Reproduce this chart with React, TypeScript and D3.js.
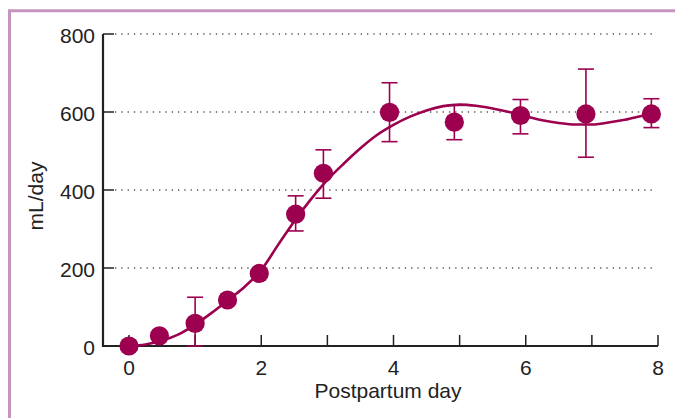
import React from 'react';
import * as d3 from 'd3';

const width = 675;
const height = 418;
const margin = { top: 34, left: 129, right: 17, bottom: 72 };

// measured points (postpartum day, mL/day) with error bar ends
const days = [0, 0.46, 1.0, 1.49, 1.97, 2.52, 2.94, 3.94, 4.92, 5.92, 6.91, 7.9];
const means = [0, 26, 58, 118, 186, 338, 443, 599, 574, 591, 595, 595];
const upper = [null, null, 125, null, null, 385, 503, 675, 617, 632, 710, 634];
const lower = [null, null, 0, null, null, 295, 379, 524, 529, 544, 484, 560];

// fitted curve
const curveDays = [0, 0.25, 0.5, 0.75, 1.0, 1.25, 1.5, 1.75, 2.0, 2.25, 2.5, 2.75, 3.0, 3.25, 3.5, 3.75, 4.0, 4.25, 4.5, 4.75, 5.0, 5.25, 5.5, 5.75, 6.0, 6.25, 6.5, 6.75, 7.0, 7.25, 7.5, 7.75, 7.9];
const curveValues = [0, 4, 14, 30, 55, 85, 118, 152, 195, 258, 320, 376, 426, 468, 507, 541, 567, 588, 604, 615, 619, 616, 609, 600, 589, 579, 572, 568, 568, 573, 580, 590, 596];

const xTicks = [0, 1, 2, 3, 4, 5, 6, 7, 8];
const xLabels = [0, 2, 4, 6, 8];
const yTicks = [0, 200, 400, 600, 800];
const gridValues = [200, 400, 600, 800];

const color = '#9c004f';
const ink = '#222';
const font = '"Liberation Sans", Arial, Helvetica, sans-serif';

const x = d3.scaleLinear().domain([0, 8]).range([margin.left, width - margin.right]);
const y = d3.scaleLinear().domain([0, 800]).range([height - margin.bottom, margin.top]);

const line = d3.line<number>()
  .x((d, i) => x(curveDays[i]))
  .y(d => y(d))
  .curve(d3.curveMonotoneX);

export default function App() {
  const x0 = 103;
  const y0 = y(0);
  return (
    <svg width={width} height={height} viewBox={`0 0 ${width} ${height}`}
      style={{ position: 'absolute', left: 0, top: 0, background: '#fff' }}
      fontFamily={font}>
      {/* frame */}
      <path d={`M9.5,${height + 5} V10.8 H${width + 5}`} fill="none" stroke="#c495bf" strokeWidth={3} />

      {/* grid */}
      {gridValues.map(v => (
        <line key={'g' + v} x1={115} x2={656} y1={y(v)} y2={y(v)}
          stroke="#555" strokeWidth={1.3} strokeDasharray="1.3,5" />
      ))}

      {/* axes */}
      <path d={`M${x0},${y(800)} V${y0} H${x(8)}`} fill="none" stroke={ink} strokeWidth={2.2} />
      {yTicks.filter(v => v > 0).map(v => (
        <line key={'yt' + v} x1={x0} x2={x0 + 11} y1={y(v)} y2={y(v)} stroke={ink} strokeWidth={1.5} />
      ))}
      {xTicks.map(v => (
        <line key={'xt' + v} x1={x(v)} x2={x(v)} y1={y0} y2={y0 - 11} stroke={ink} strokeWidth={1.5} />
      ))}
      {yTicks.map(v => (
        <text key={'yl' + v} x={95} y={y(v) + 1.5} dy="0.35em" textAnchor="end"
          fontSize={21} fill={ink}>{v}</text>
      ))}
      {xLabels.map(v => (
        <text key={'xl' + v} x={x(v)} y={375} textAnchor="middle" fontSize={21} fill={ink}>{v}</text>
      ))}
      <text x={388} y={398} textAnchor="middle" fontSize={21} fill={ink}>Postpartum day</text>
      <text transform="translate(43,196) rotate(-90)" textAnchor="middle" fontSize={21} fill={ink}>mL/day</text>

      {/* error bars */}
      {days.map((d, i) => upper[i] == null ? null : (
        <g key={'e' + i} stroke={color} strokeWidth={1.6}>
          <line x1={x(d)} x2={x(d)} y1={y(upper[i] as number)} y2={y(lower[i] as number)} />
          <line x1={x(d) - 8} x2={x(d) + 8} y1={y(upper[i] as number)} y2={y(upper[i] as number)} />
          <line x1={x(d) - 8} x2={x(d) + 8} y1={y(lower[i] as number)} y2={y(lower[i] as number)} />
        </g>
      ))}

      {/* fitted curve */}
      <path d={line(curveValues) || ''} fill="none" stroke={color} strokeWidth={2.6} />

      {/* points */}
      {days.map((d, i) => (
        <circle key={'p' + i} cx={x(d)} cy={y(means[i])} r={9.6} fill={color} />
      ))}
    </svg>
  );
}
